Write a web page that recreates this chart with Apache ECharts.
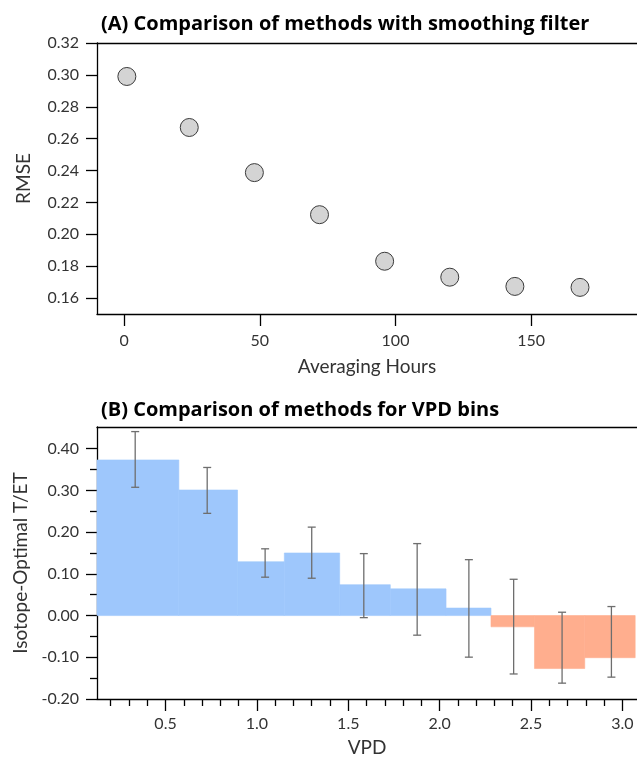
<!DOCTYPE html>
<html>
<head>
<meta charset="utf-8">
<script src="https://cdn.jsdelivr.net/npm/echarts@6.0.0/dist/echarts.min.js"></script>
<style>
    body {margin: 0; background: #fff;}
    #main {width: 637px; height: 759px;}
</style>
</head>
<body>
<div id="main"></div>
<script>
// (A) RMSE vs averaging window
var avgHours = [1, 24, 48, 72, 96, 120, 144, 168];
var rmse = [0.299, 0.267, 0.2387, 0.2123, 0.1831, 0.1731, 0.1673, 0.1667];
var rmseTicks = [0.16, 0.18, 0.20, 0.22, 0.24, 0.26, 0.28, 0.30, 0.32];
var hourTicks = [0, 50, 100, 150];

// (B) VPD bins: edges, bar height, error bar position and range
var binEdges = [0.125, 0.573, 0.894, 1.15, 1.453, 1.73, 2.035, 2.281, 2.519, 2.794, 3.07];
var binValues = [0.373, 0.301, 0.129, 0.150, 0.074, 0.064, 0.018, -0.027, -0.127, -0.101];
var errX = [0.334, 0.728, 1.045, 1.30, 1.585, 1.877, 2.16, 2.405, 2.67, 2.94];
var errHigh = [0.441, 0.355, 0.160, 0.212, 0.1485, 0.1725, 0.134, 0.087, 0.008, 0.0216];
var errLow = [0.3075, 0.245, 0.092, 0.0895, -0.005, -0.047, -0.0997, -0.140, -0.162, -0.1476];
var vpdMajor = [0.5, 1.0, 1.5, 2.0, 2.5, 3.0];
var vpdMinor = [0.2, 0.3, 0.4, 0.6, 0.7, 0.8, 0.9, 1.1, 1.2, 1.3, 1.4, 1.6, 1.7, 1.8, 1.9,
    2.1, 2.2, 2.3, 2.4, 2.6, 2.7, 2.8, 2.9];
var teMajor = [-0.2, -0.1, 0.0, 0.1, 0.2, 0.3, 0.4];
var teMinor = [-0.15, -0.05, 0.05, 0.15, 0.25, 0.35];

var FONT = 'Lato';
var blue = '#9ec7fc', orange = '#ffae8e';

var barData = [];
for (var i = 0; i < binValues.length; i++) {
    barData.push([binEdges[i], binEdges[i + 1], binValues[i]]);
}
var errData = [];
for (var i = 0; i < errX.length; i++) {
    errData.push([errX[i], errLow[i], errHigh[i]]);
}

function renderBar(params, api) {
    var v = api.value(2);
    var p0 = api.coord([api.value(0), v]);
    var p1 = api.coord([api.value(1), 0]);
    var c = v >= 0 ? blue : orange;
    return {
        type: 'rect',
        shape: {
            x: p0[0], y: Math.min(p0[1], p1[1]),
            width: p1[0] - p0[0], height: Math.abs(p1[1] - p0[1])
        },
        style: {fill: c, stroke: c, lineWidth: 0.6}
    };
}

function renderErr(params, api) {
    var lo = api.coord([api.value(0), api.value(1)]);
    var hi = api.coord([api.value(0), api.value(2)]);
    var w = 4;
    var st = {stroke: '#6e6e6e', lineWidth: 1.3};
    return {
        type: 'group',
        children: [
            {type: 'line', shape: {x1: lo[0], y1: lo[1], x2: hi[0], y2: hi[1]}, style: st},
            {type: 'line', shape: {x1: lo[0] - w, y1: lo[1], x2: lo[0] + w, y2: lo[1]}, style: st},
            {type: 'line', shape: {x1: hi[0] - w, y1: hi[1], x2: hi[0] + w, y2: hi[1]}, style: st}
        ]
    };
}

var lineStyle = {color: '#000', width: 1.3};
var labelStyle = {color: '#333', fontSize: 16, fontFamily: FONT};
var nameStyle = {color: '#333', fontSize: 19, fontFamily: FONT};
var titleStyle = {fontSize: 20, fontWeight: 'bold', color: '#000', fontFamily: 'Open Sans'};

var myChart = echarts.init(document.getElementById("main"));
option = {
    animation: false,
    textStyle: {fontFamily: FONT},
    title: [
        {text: '(A) Comparison of methods with smoothing filter', left: 96, top: 9, textStyle: titleStyle},
        {text: '(B) Comparison of methods for VPD bins', left: 96, top: 395, textStyle: titleStyle}
    ],
    grid: [
        {left: 97, top: 43, width: 540, height: 271},
        {left: 97, top: 427, width: 540, height: 272}
    ],
    xAxis: [
        {   // 0: hours
            type: 'value', gridIndex: 0, position: 'bottom', min: -10, max: 189,
            name: 'Averaging Hours', nameLocation: 'middle', nameGap: 43, nameTextStyle: nameStyle,
            axisLine: {onZero: false, lineStyle: lineStyle},
            axisTick: {length: 12, lineStyle: lineStyle, customValues: hourTicks},
            axisLabel: Object.assign({margin: 19, customValues: hourTicks}, labelStyle),
            splitLine: {show: false}
        },
        {   // 1: top frame line of (A)
            type: 'value', gridIndex: 0, position: 'top', min: -10, max: 189,
            axisLine: {onZero: false, lineStyle: lineStyle},
            axisTick: {show: false}, axisLabel: {show: false}, splitLine: {show: false}
        },
        {   // 2: VPD major
            type: 'value', gridIndex: 1, position: 'bottom', min: 0.125, max: 3.08,
            name: 'VPD', nameLocation: 'middle', nameGap: 39, nameTextStyle: nameStyle,
            axisLine: {onZero: false, lineStyle: lineStyle},
            axisTick: {length: 12, lineStyle: lineStyle, customValues: vpdMajor},
            axisLabel: Object.assign({margin: 17, customValues: vpdMajor,
                formatter: function (v) { return v.toFixed(1); }}, labelStyle),
            splitLine: {show: false}
        },
        {   // 3: VPD minor ticks
            type: 'value', gridIndex: 1, position: 'bottom', min: 0.125, max: 3.08,
            axisLine: {show: false, onZero: false},
            axisTick: {length: 7, lineStyle: lineStyle, customValues: vpdMinor},
            axisLabel: {show: false}, splitLine: {show: false}
        },
        {   // 4: top frame line of (B)
            type: 'value', gridIndex: 1, position: 'top', min: 0.125, max: 3.08,
            axisLine: {onZero: false, lineStyle: lineStyle},
            axisTick: {show: false}, axisLabel: {show: false}, splitLine: {show: false}
        }
    ],
    yAxis: [
        {   // 0: RMSE
            type: 'value', gridIndex: 0, position: 'left', min: 0.15, max: 0.32,
            name: 'RMSE', nameLocation: 'middle', nameGap: 64, nameTextStyle: nameStyle,
            axisLine: {onZero: false, lineStyle: lineStyle},
            axisTick: {length: 11, lineStyle: lineStyle, customValues: rmseTicks},
            axisLabel: Object.assign({margin: 18, customValues: rmseTicks,
                formatter: function (v) { return v.toFixed(2); }}, labelStyle),
            splitLine: {show: false}
        },
        {   // 1: T/ET major
            type: 'value', gridIndex: 1, position: 'left', min: -0.2, max: 0.452,
            name: 'Isotope-Optimal T/ET', nameLocation: 'middle', nameGap: 64, nameTextStyle: nameStyle,
            axisLine: {onZero: false, lineStyle: lineStyle},
            axisTick: {length: 11, lineStyle: lineStyle, customValues: teMajor},
            axisLabel: Object.assign({margin: 18, customValues: teMajor,
                formatter: function (v) { return v.toFixed(2); }}, labelStyle),
            splitLine: {show: false}
        },
        {   // 2: T/ET minor ticks
            type: 'value', gridIndex: 1, position: 'left', min: -0.2, max: 0.452,
            axisLine: {show: false, onZero: false},
            axisTick: {length: 7, lineStyle: lineStyle, customValues: teMinor},
            axisLabel: {show: false}, splitLine: {show: false}
        }
    ],
    series: [
        {
            type: 'scatter', xAxisIndex: 0, yAxisIndex: 0,
            symbolSize: 18,
            itemStyle: {color: '#d4d4d4', borderColor: '#3a3a3a', borderWidth: 1, opacity: 1},
            data: avgHours.map(function (h, i) { return [h, rmse[i]]; })
        },
        {
            type: 'custom', xAxisIndex: 2, yAxisIndex: 1,
            renderItem: renderBar,
            encode: {x: [0, 1], y: 2},
            data: barData
        },
        {
            type: 'custom', xAxisIndex: 2, yAxisIndex: 1,
            renderItem: renderErr,
            encode: {x: 0, y: [1, 2]},
            data: errData,
            z: 3
        }
    ]
};
myChart.setOption(option);
</script>
</body>
</html>
